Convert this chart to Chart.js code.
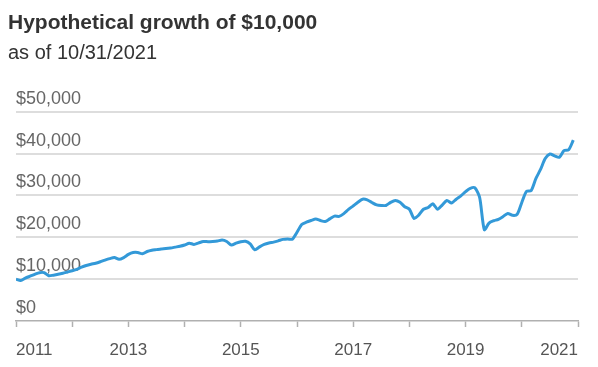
<!DOCTYPE html>
<html>
<head>
<meta charset="utf-8">
<script src="https://cdn.jsdelivr.net/npm/chart.js@4.4.1/dist/chart.umd.min.js"></script>
<style>
  html, body { margin: 0; padding: 0; background: #fff; }
  #wrap { width: 598px; height: 367px; position: relative; }
</style>
</head>
<body>
<div id="wrap"><canvas id="c" width="598" height="367"></canvas></div>
<script>
// Chart text
const titleText = 'Hypothetical growth of $10,000';
const subtitleText = 'as of 10/31/2021';

// X axis: one tick per year (every 12 monthly points), label every other year
const yearLabels = ['2011','2012','2013','2014','2015','2016','2017','2018','2019','2020','2021'];

// Y axis tick values
const yTicks = [0, 10000, 20000, 30000, 40000, 50000];

// Monthly value of a hypothetical $10,000 investment (month index from start)
const growthValues = [
  10000, 9700, 10250, 10700, 11150, 11550, 11550, 10800, 10950, 11150,
  11400, 11700, 12000, 12350, 12850, 13250, 13550, 13800, 14150, 14550,
  14900, 15150, 14750, 15150, 15900, 16350, 16350, 16050, 16600, 16900,
  17050, 17200, 17300, 17450, 17650, 17850, 18150, 18600, 18300, 18650,
  19000, 18950, 19000, 19100, 19350, 19000, 18150, 18600, 18950, 19050,
  18400, 17000, 17700, 18300, 18650, 18850, 19150, 19500, 19600, 19550,
  21200, 23050, 23600, 24000, 24350, 24000, 23750, 24400, 25050, 25000,
  25650, 26650, 27500, 28350, 29100, 28950, 28300, 27750, 27600, 27600,
  28350, 28800, 28350, 27300, 26700, 24500, 25300, 26700, 27100, 28000,
  26700, 27700, 28800, 28200, 29100, 29900, 30900, 31700, 31800, 29500,
  21800, 23400, 23950, 24300, 24950, 25700, 25250, 25450, 28300, 30950,
  31150, 34000, 36200, 38800, 39900, 39450, 39100, 40700, 40900, 43200
];

const points = growthValues.map((v, i) => ({ x: i, y: v }));
const fmtMoney = v => '$' + Number(v).toLocaleString('en-US');

new Chart(document.getElementById('c'), {
  type: 'line',
  data: {
    datasets: [{
      data: points,
      borderColor: '#3399d8',
      borderWidth: 3,
      pointRadius: 0,
      tension: 0.25,
      fill: false
    }]
  },
  options: {
    responsive: false,
    animation: false,
    layout: { padding: { left: 8, right: 20, top: 0, bottom: 0 } },
    plugins: {
      legend: { display: false },
      tooltip: { enabled: false },
      title: {
        display: true,
        text: titleText,
        align: 'start',
        color: '#333333',
        font: { family: 'Liberation Sans, Arial, sans-serif', size: 21, weight: 'bold', lineHeight: 1.2 },
        padding: { top: 10.5, bottom: 0 }
      },
      subtitle: {
        display: true,
        text: subtitleText,
        align: 'start',
        color: '#333333',
        font: { family: 'Liberation Sans, Arial, sans-serif', size: 20, weight: 'normal', lineHeight: 1.2 },
        padding: { top: 6, bottom: 46 }
      }
    },
    scales: {
      x: {
        type: 'linear',
        min: 0,
        max: 120,
        afterFit: function (scale) { scale.height = 46; },
        border: { display: true, color: '#b0b0b0', width: 1.5 },
        grid: { drawOnChartArea: false, drawTicks: true, tickLength: 6, tickColor: '#b0b0b0', tickWidth: 1.5 },
        ticks: {
          stepSize: 12,
          autoSkip: false,
          maxRotation: 0,
          align: 'inner',
          padding: 13,
          color: '#555555',
          font: { family: 'Liberation Sans, Arial, sans-serif', size: 17 },
          callback: function (v) {
            const idx = Math.round(v / 12);
            return idx % 2 === 0 ? yearLabels[idx] : '';
          }
        }
      },
      y: {
        min: 0,
        max: 50000,
        afterFit: function (scale) { scale.width = 8; },
        afterBuildTicks: function (scale) { scale.ticks = yTicks.map(v => ({ value: v })); },
        border: { display: false },
        grid: {
          drawTicks: false,
          color: ctx => (ctx.tick && ctx.tick.value === 0) ? 'rgba(0,0,0,0)' : '#dddddd',
          lineWidth: 2
        },
        ticks: {
          mirror: true,
          padding: 0,
          labelOffset: -13,
          color: '#666666',
          font: { family: 'Liberation Sans, Arial, sans-serif', size: 18 },
          callback: v => fmtMoney(v)
        }
      }
    }
  }
});
</script>
</body>
</html>
